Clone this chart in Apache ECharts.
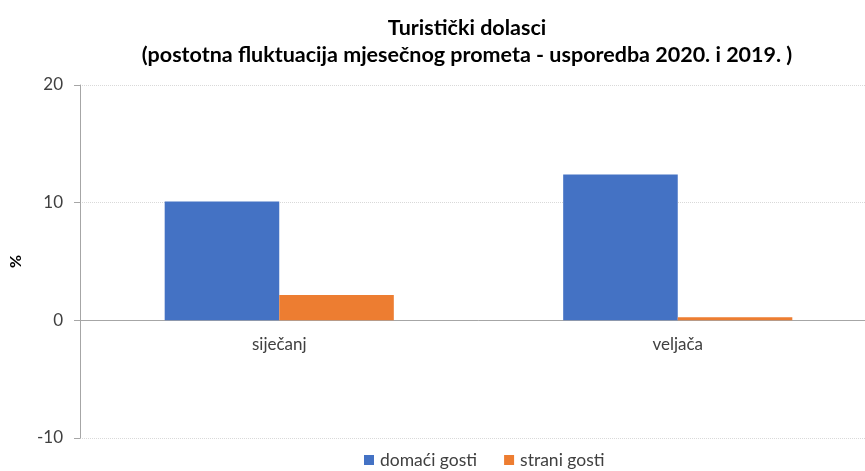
<!DOCTYPE html>
<html><head><meta charset="utf-8">
<script src="https://cdn.jsdelivr.net/npm/echarts@6/dist/echarts.min.js"></script>
<style>html,body{margin:0;padding:0;background:#fff;overflow:hidden;width:865px;height:471px}#c{width:877px;height:471px}</style>
</head><body><div id="c"></div>
<script>
const categories = ['siječanj', 'veljača'];
const domaciGosti = [10.1, 12.4];
const straniGosti = [2.15, 0.26];
const yTicks = [-10, 0, 10, 20];

const gridTop = 85, gridBottom = 33, chartH = 471;
const plotH = chartH - gridTop - gridBottom;
const yMin = yTicks[0], yMax = yTicks[yTicks.length - 1];
const zeroOffset = plotH * (0 - yMin) / (yMax - yMin);

const chart = echarts.init(document.getElementById('c'));
chart.setOption({
  animation: false,
  textStyle: { fontFamily: 'Lato' },
  title: {
    text: 'Turistički dolasci\n(postotna fluktuacija mjesečnog prometa - usporedba 2020. i 2019. )',
    left: 462, textAlign: 'center', top: 10,
    textStyle: { fontFamily: 'Lato', fontSize: 21.5, fontWeight: 'bold', color: '#000', lineHeight: 27 }
  },
  legend: {
    bottom: 0, left: 364, padding: [0, 0, 2, 0], itemWidth: 10, itemHeight: 10, itemGap: 27,
    icon: 'rect',
    textStyle: { fontFamily: 'Lato', fontSize: 17.5, color: '#404040', padding: [0, 0, 0, 1] },
    data: ['domaći gosti', 'strani gosti']
  },
  grid: { left: 77, right: 0, top: gridTop, bottom: gridBottom },
  xAxis: {
    type: 'category', data: categories, position: 'bottom', offset: -zeroOffset,
    axisLine: { onZero: false, lineStyle: { color: '#a6a6a6' } },
    axisTick: { show: false },
    axisLabel: { fontFamily: 'Lato', fontSize: 17, color: '#404040', margin: 16 }
  },
  yAxis: {
    type: 'value', min: yMin, max: yMax, interval: 10,
    name: '%', nameLocation: 'middle', nameGap: 56, nameRotate: 90,
    nameTextStyle: { fontFamily: 'Lato', fontSize: 16, fontWeight: 'bold', color: '#000' },
    axisLine: { show: true, lineStyle: { color: '#a6a6a6' } },
    axisTick: { show: true, length: 6, lineStyle: { color: '#a6a6a6' } },
    axisLabel: { fontFamily: 'Lato', fontSize: 17, color: '#404040', margin: 17 },
    splitLine: { show: true, lineStyle: { color: '#d9d9d9', type: 'dotted' } }
  },
  series: [
    { name: 'domaći gosti', type: 'bar', data: domaciGosti, itemStyle: { color: '#4472c4' }, barGap: '0%', barCategoryGap: '42.5%' },
    { name: 'strani gosti', type: 'bar', data: straniGosti, itemStyle: { color: '#ed7d31' }, barGap: '0%', barCategoryGap: '42.5%' }
  ]
});
</script></body></html>
